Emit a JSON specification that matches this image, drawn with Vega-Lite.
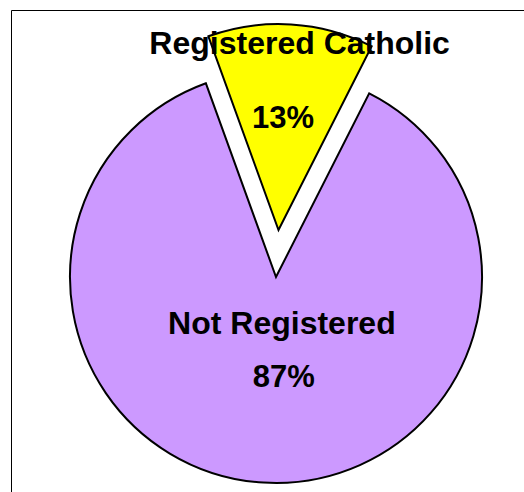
{
  "$schema": "https://vega.github.io/schema/vega-lite/v6.json",
  "width": 530,
  "height": 534,
  "autosize": {"type": "none"},
  "padding": {"left": 11, "top": 10, "right": 0, "bottom": 0},
  "background": "white",
  "view": {"stroke": "#000", "strokeWidth": 1},
  "data": {"values": [
    {"category": "Registered Catholic", "value": 13, "pct": "13%", "rank": 1},
    {"category": "Not Registered", "value": 87, "pct": "87%", "rank": 2}
  ]},
  "encoding": {
    "theta": {"field": "value", "type": "quantitative", "stack": true, "scale": {"range": [-0.3473, 5.9359]}},
    "order": {"field": "rank", "type": "quantitative"}
  },
  "layer": [
    {
      "mark": {"type": "arc", "radius": 206, "stroke": "#000", "strokeWidth": 2, "strokeJoin": "miter"},
      "encoding": {
        "color": {"field": "category", "type": "nominal", "scale": {"domain": ["Registered Catholic", "Not Registered"], "range": ["#FFFF00", "#CC99FF"]}, "legend": null},
        "opacity": {"condition": {"test": "datum.category === 'Registered Catholic'", "value": 0}, "value": 1}
      }
    },
    {
      "mark": {"type": "arc", "radius": 206, "stroke": "#000", "strokeWidth": 2, "strokeJoin": "miter", "xOffset": 2.5, "yOffset": -47},
      "encoding": {
        "color": {"field": "category", "type": "nominal", "legend": null},
        "opacity": {"condition": {"test": "datum.category === 'Registered Catholic'", "value": 1}, "value": 0}
      }
    },
    {
      "mark": {"type": "text", "radius": 223, "dx": 10, "font": "Liberation Sans", "fontSize": 32, "fontWeight": "bold", "baseline": "alphabetic", "align": "center", "color": "#000"},
      "encoding": {"text": {"condition": {"test": "datum.category === 'Registered Catholic'", "field": "category"}, "value": ""}}
    },
    {
      "mark": {"type": "text", "radius": 149, "dx": -2, "font": "Liberation Sans", "fontSize": 31, "fontWeight": "bold", "baseline": "alphabetic", "align": "center", "color": "#000"},
      "encoding": {"text": {"condition": {"test": "datum.category === 'Registered Catholic'", "field": "pct"}, "value": ""}}
    },
    {
      "mark": {"type": "text", "radius": 57, "dx": 9.4, "font": "Liberation Sans", "fontSize": 32, "fontWeight": "bold", "baseline": "alphabetic", "align": "center", "color": "#000"},
      "encoding": {"text": {"condition": {"test": "datum.category === 'Not Registered'", "field": "category"}, "value": ""}}
    },
    {
      "mark": {"type": "text", "radius": 110.5, "dx": 14.6, "font": "Liberation Sans", "fontSize": 31, "fontWeight": "bold", "baseline": "alphabetic", "align": "center", "color": "#000"},
      "encoding": {"text": {"condition": {"test": "datum.category === 'Not Registered'", "field": "pct"}, "value": ""}}
    }
  ]
}
